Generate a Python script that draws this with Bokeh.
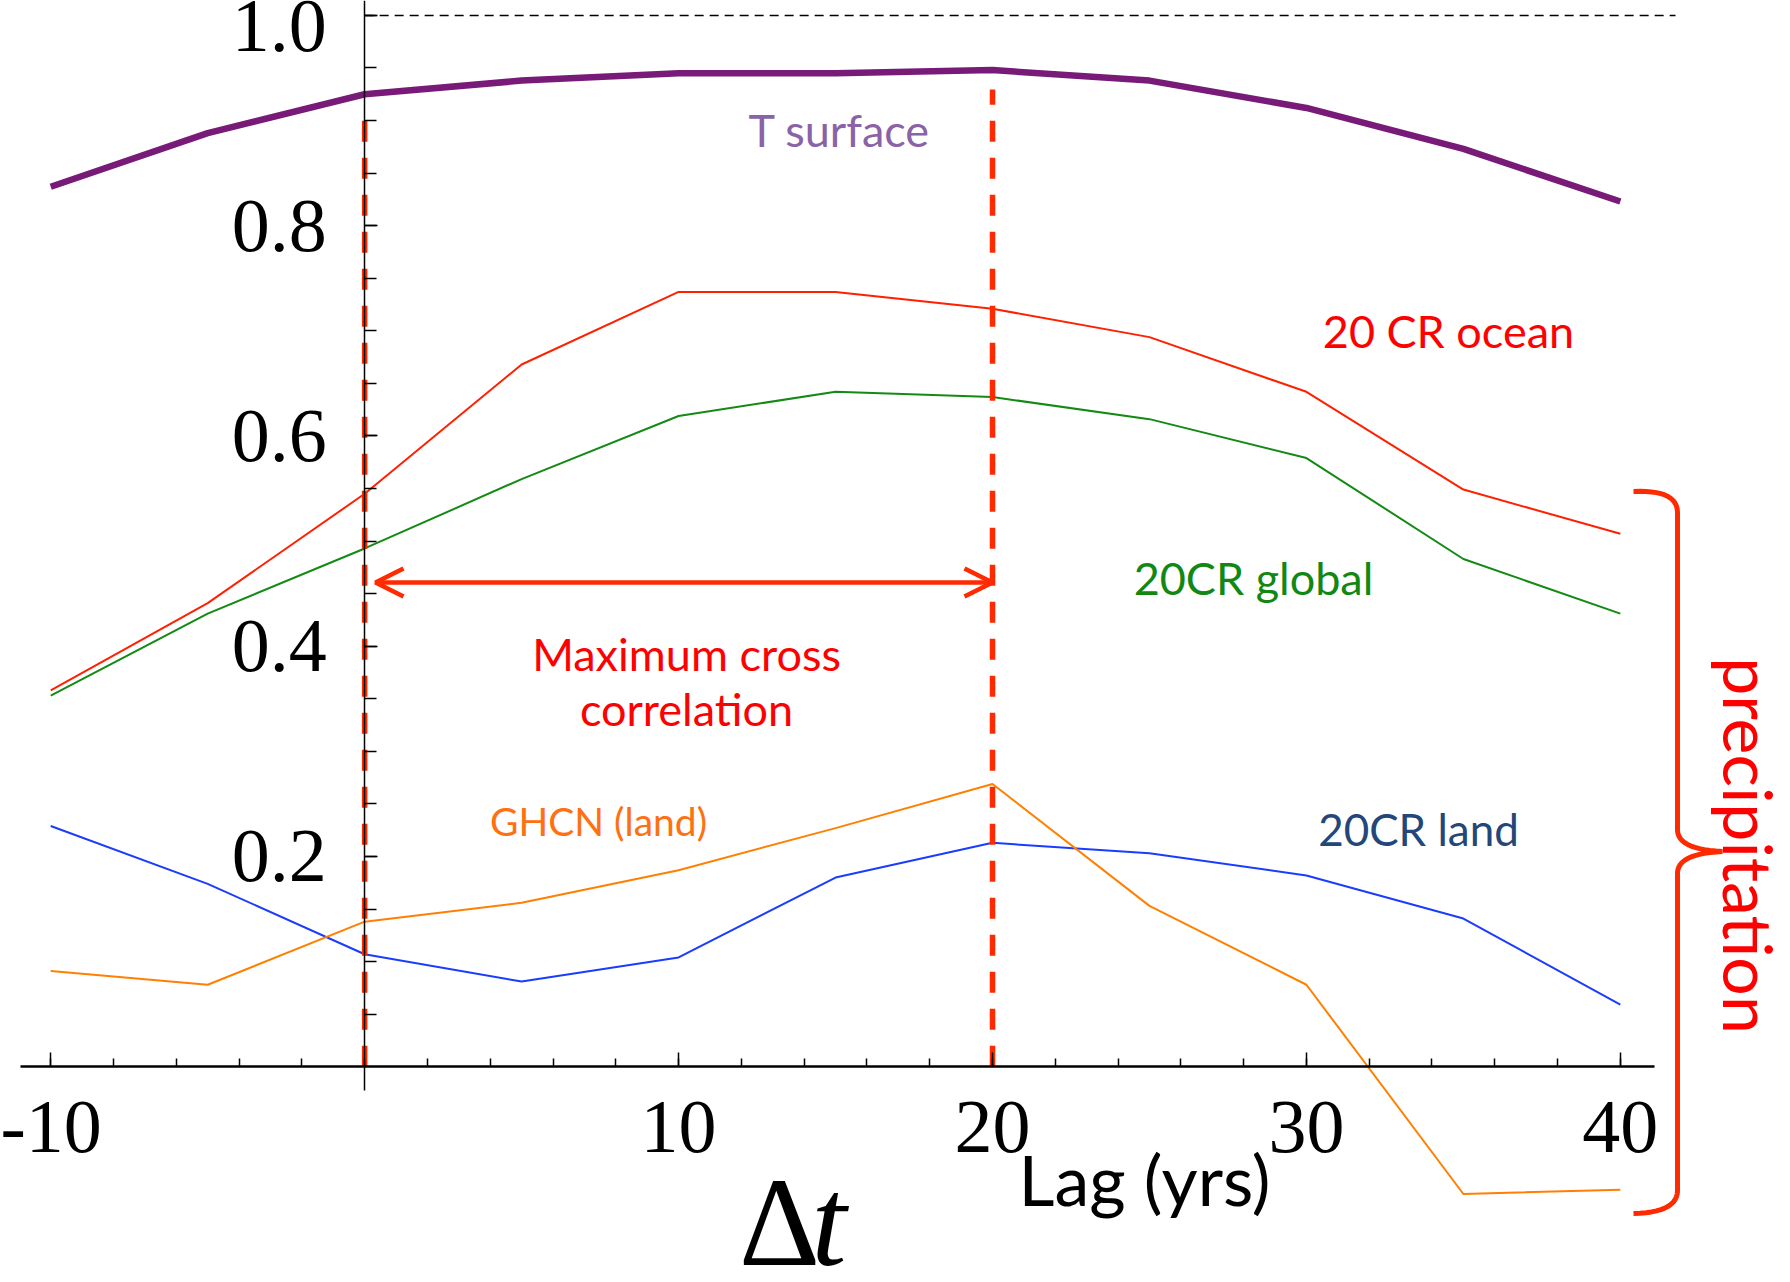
import numpy as np
from bokeh.plotting import figure
from bokeh.models import Range1d, LinearAxis, FixedTicker, Arrow, OpenHead, Label, PrintfTickFormatter
from bokeh.embed import file_html
from bokeh.resources import INLINE

# ---------------- data ----------------
lags = [-10, -5, 0, 5, 10, 15, 20, 25, 30, 35, 40]
t_surface = [0.837, 0.888, 0.925, 0.938, 0.945, 0.945, 0.948, 0.938, 0.912, 0.873, 0.823]
cr20_ocean = [0.358, 0.441, 0.545, 0.668, 0.737, 0.737, 0.721, 0.694, 0.642, 0.549, 0.507]
cr20_global = [0.353, 0.431, 0.493, 0.559, 0.619, 0.642, 0.637, 0.616, 0.579, 0.483, 0.431]
cr20_land = [0.229, 0.174, 0.107, 0.081, 0.104, 0.180, 0.213, 0.203, 0.182, 0.141, 0.059]
ghcn_land = [0.091, 0.078, 0.138, 0.156, 0.187, 0.227, 0.269, 0.153, 0.078, -0.121, -0.117]
max_corr_lags = [0, 20]
ref_level = 1.0
x_tick_values = [-10, 10, 20, 30, 40]
x_tick_labels = ["-10", "10", "20", "30", "40"]
x_minor_values = list(range(-10, 41, 2))
y_tick_values = [0.2, 0.4, 0.6, 0.8, 1.0]
y_minor_values = [round(0.05 * i, 2) for i in range(1, 21)]

# ---------------- geometry ----------------
W, H = 1790, 1282
X0, X1 = -11.60, 45.42
Y0, Y1 = -0.2052, 1.0142


def dx(px):
    return X0 + px * (X1 - X0) / W


def dy(py):
    return Y1 - py * (Y1 - Y0) / H


RED = "#ff2a00"

p = figure(width=W, height=H, x_range=Range1d(X0, X1), y_range=Range1d(Y0, Y1),
           output_backend="svg", toolbar_location=None,
           x_axis_location=None, y_axis_location=None, min_border=0)
p.grid.visible = False
p.outline_line_color = None
p.background_fill_color = "white"
p.border_fill_color = "white"

LABEL_FONT = "Liberation Serif"

xaxis = LinearAxis(fixed_location=0,
                   ticker=FixedTicker(ticks=x_tick_values, minor_ticks=x_minor_values),
                   bounds=(-10.95, 41.1))
xaxis.major_label_overrides = dict(zip(x_tick_values, x_tick_labels))
xaxis.axis_line_width = 2.5
xaxis.axis_line_color = "black"
xaxis.major_tick_in = 14
xaxis.major_tick_out = 0
xaxis.minor_tick_in = 8
xaxis.minor_tick_out = 0
xaxis.major_tick_line_width = 1.5
xaxis.minor_tick_line_width = 1.5
xaxis.major_label_text_font = LABEL_FONT
xaxis.major_label_text_font_size = "76px"
xaxis.major_label_text_color = "black"
xaxis.major_label_standoff = 35
p.add_layout(xaxis, "below")

yaxis = LinearAxis(fixed_location=0,
                   ticker=FixedTicker(ticks=y_tick_values, minor_ticks=y_minor_values),
                   formatter=PrintfTickFormatter(format="%.1f"),
                   bounds=(-0.023, 1.02))
yaxis.axis_line_width = 1.5
yaxis.axis_line_color = "black"
yaxis.major_tick_in = 13
yaxis.major_tick_out = 0
yaxis.minor_tick_in = 12
yaxis.minor_tick_out = 0
yaxis.major_tick_line_width = 1.5
yaxis.minor_tick_line_width = 1.5
yaxis.major_label_text_font = LABEL_FONT
yaxis.major_label_text_font_size = "76px"
yaxis.major_label_text_color = "black"
yaxis.major_label_standoff = 38
p.add_layout(yaxis, "left")

# reference line at correlation 1
p.segment(x0=[0], y0=[ref_level], x1=[dx(1675)], y1=[ref_level],
          line_color="black", line_width=1.6, line_dash="9 6")

# series
p.line(lags, cr20_ocean, line_color="#ff2000", line_width=2)
p.line(lags, cr20_global, line_color="#138a13", line_width=2)
p.line(lags, cr20_land, line_color="#1a3cff", line_width=2)
p.line(lags, ghcn_land, line_color="#ff8000", line_width=2)
p.line(lags, t_surface, line_color="#781a78", line_width=6.5)

# red dashed markers of maximum cross correlation
p.segment(x0=max_corr_lags, y0=[0, 0], x1=max_corr_lags, y1=[dy(107), dy(89)],
          line_color=RED, line_width=5.5, line_dash="21 16")

# double arrow
arr_y = dy(582)
p.add_layout(Arrow(start=OpenHead(size=28, line_color=RED, line_width=4.5),
                   end=OpenHead(size=28, line_color=RED, line_width=4.5),
                   x_start=dx(375), y_start=arr_y, x_end=dx(992), y_end=arr_y,
                   line_color=RED, line_width=4.5))


# brace
def qb(a, c, b, n=14):
    t = np.linspace(0, 1, n)
    xs = (1 - t) ** 2 * a[0] + 2 * (1 - t) * t * c[0] + t ** 2 * b[0]
    ys = (1 - t) ** 2 * a[1] + 2 * (1 - t) * t * c[1] + t ** 2 * b[1]
    return list(xs), list(ys)


bx, by = [], []
for seg in [((1633, 491), (1677, 489), (1677, 512)),
            ((1677, 830), (1678, 849), (1722, 851)),
            ((1722, 851), (1678, 853), (1677, 872)),
            ((1677, 1190), (1677, 1212), (1633, 1213))]:
    xs, ys = qb(*seg)
    bx += xs
    by += ys
p.line([dx(v) for v in bx], [dy(v) for v in by], line_color=RED, line_width=5)

SANS = "Lato"


def lab(text, px, py, color, size, **kw):
    opts = dict(text_align="center", text_baseline="middle")
    opts.update(kw)
    p.add_layout(Label(x=dx(px), y=dy(py), text=text, text_color=color,
                       text_font=SANS, text_font_size=size, **opts))


lab("T surface", 839, 129, "#8a62a6", "45px")
lab("20 CR ocean", 1448, 330, "#ff0000", "45px")
lab("20CR global", 1253, 577, "#118811", "45px")
lab("Maximum cross", 686, 653, "#ff0000", "45px")
lab("correlation", 686, 708, "#ff0000", "45px")
lab("GHCN (land)", 598, 820, "#ff7010", "39px")
lab("20CR land", 1418, 828, "#24477a", "44px")
lab("Lag (yrs)", 1144, 1178, "black", "70px")
p.add_layout(Label(x=dx(1749), y=dy(845), text="precipitation", text_color="#ff0000",
                   text_font=SANS, text_font_size="68px", angle=-np.pi / 2,
                   text_align="center", text_baseline="middle"))

p.add_layout(Label(x=dx(779), y=dy(1222), text="\u0394", text_color="black",
                   text_font="Liberation Serif", text_font_size="126px",
                   text_align="center", text_baseline="middle"))
p.add_layout(Label(x=dx(811), y=dy(1222), text="t", text_color="black",
                   text_font="Liberation Serif", text_font_style="italic",
                   text_font_size="126px", text_align="left", text_baseline="middle"))

open("out.html", "w").write(file_html(p, INLINE))
